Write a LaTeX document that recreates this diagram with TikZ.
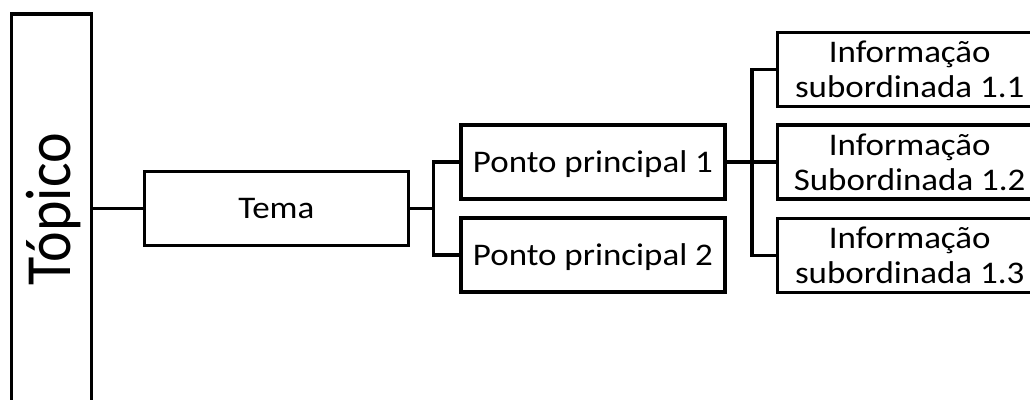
\documentclass[tikz,border=0pt]{standalone}
\usepackage{fontspec}
\setmainfont{Carlito}[FakeStretch=1.11]
\newfontfamily\topfont{Carlito}
\begin{document}
\begin{tikzpicture}[x=1pt,y=-1pt,
  box/.style={draw, line width=3.2pt, inner sep=0pt, minimum width=264pt, minimum height=74pt, font=\fontsize{31.5}{35}\selectfont},
  onebox/.style={box, text height=20pt, text depth=0pt},
  twobox/.style={box, align=center},
  link/.style={line width=3.2pt}]
\useasboundingbox (0,0) rectangle (1030,399);
\clip (0,0) rectangle (1030,399);
\node[draw, line width=3.2pt, minimum width=80pt, minimum height=390pt, inner sep=0pt] (topico) at (51.3,209) {};
\node[rotate=90, anchor=base, inner sep=0pt, font=\topfont\fontsize{58}{62}\selectfont] (topicolabel) at (70,209.2) {\scalebox{1}[1.11]{Tópico}};
\node[onebox] (tema) at (276.3,208.3) {Tema};
\node[onebox] (p1) at (593,162) {Ponto principal 1};
\node[onebox] (p2) at (593,255) {Ponto principal 2};
\node[twobox] (i1) at (909.7,69.7) {Informação\\subordinada 1.1};
\node[twobox] (i2) at (909.7,162) {Informação\\Subordinada 1.2};
\node[twobox] (i3) at (909.7,255.2) {Informação\\subordinada 1.3};
\coordinate (b1) at (433.3,208.3);
\coordinate (b2) at (752,162);
\draw[link] (topico.east |- tema.west) -- (tema.west);
\draw[link] (tema.east) -- (b1);
\draw[link] (p1.west) -- (b1 |- p1.west) -- (b1 |- p2.west) -- (p2.west);
\draw[link] (p1.east) -- (b2);
\draw[link] (i1.west) -- (b2 |- i1.west) -- (b2 |- i3.west) -- (i3.west);
\draw[link] (b2) -- (i2.west);
\end{tikzpicture}
\end{document}
